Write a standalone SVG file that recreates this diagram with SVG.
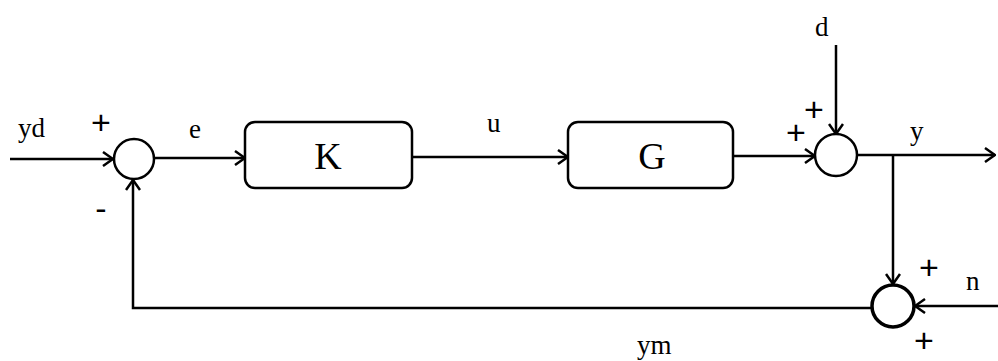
<svg xmlns="http://www.w3.org/2000/svg" width="998" height="361" viewBox="0 0 998 361">
  <style>
    .ln { fill: none; stroke: #000; stroke-width: 2.5; }
    .blk { fill: #fff; stroke: #000; stroke-width: 2.5; }
    .sum { fill: #fff; stroke: #000; stroke-width: 2.5; }
    .lbl { font-family: "Liberation Serif", "Times New Roman", serif; font-size: 27px; fill: #000; }
    .big { font-family: "Liberation Serif", "Times New Roman", serif; font-size: 38px; fill: #000; text-anchor: middle; }
    .sgn { font-family: "Liberation Sans", Arial, sans-serif; font-size: 34px; fill: #000; text-anchor: middle; }
  </style>
  <defs>
    <marker id="arr" viewBox="0 0 12 16" refX="11" refY="8" markerWidth="12" markerHeight="16" markerUnits="userSpaceOnUse" orient="auto">
      <path d="M1,1 L11,8 L1,15" fill="none" stroke="#000" stroke-width="2.5"/>
    </marker>
  </defs>

  <g id="connectors">
    <!-- reference input into first summing junction -->
    <path class="ln" d="M10,159 L113,159" marker-end="url(#arr)"/>
    <!-- error to controller -->
    <path class="ln" d="M155,158 L245,158" marker-end="url(#arr)"/>
    <!-- control signal to plant -->
    <path class="ln" d="M412,157 L568,157" marker-end="url(#arr)"/>
    <!-- plant output to disturbance junction -->
    <path class="ln" d="M733,156 L815,156" marker-end="url(#arr)"/>
    <!-- disturbance -->
    <path class="ln" d="M836,45 L836,134" marker-end="url(#arr)"/>
    <!-- output -->
    <path class="ln" d="M857,155 L995,155" marker-end="url(#arr)"/>
    <!-- measurement branch -->
    <path class="ln" d="M893,155 L893,284" marker-end="url(#arr)"/>
    <!-- noise -->
    <path class="ln" d="M998,306 L915,306" marker-end="url(#arr)"/>
    <!-- feedback ym -->
    <path class="ln" d="M871,308 L133,308 L133,180" marker-end="url(#arr)"/>
  </g>

  <g id="sum1">
    <circle class="sum" cx="134" cy="159" r="20"/>
  </g>
  <g id="K">
    <rect class="blk" x="245" y="122" width="167" height="66" rx="10"/>
    <text class="big" x="328" y="169">K</text>
  </g>
  <g id="G">
    <rect class="blk" x="568" y="122" width="165" height="66" rx="10"/>
    <text class="big" x="652" y="169">G</text>
  </g>
  <g id="sum2">
    <circle class="sum" cx="836" cy="155" r="21"/>
  </g>
  <g id="sum3">
    <circle class="sum" cx="893" cy="306" r="21" style="stroke-width:3.5"/>
  </g>

  <g id="labels">
    <text class="lbl" x="18" y="137">yd</text>
    <text class="lbl" x="189" y="138">e</text>
    <text class="lbl" x="487" y="132">u</text>
    <text class="lbl" x="815" y="36">d</text>
    <text class="lbl" x="910" y="140">y</text>
    <text class="lbl" x="966" y="290">n</text>
    <text class="lbl" x="637" y="354">ym</text>
    <text class="sgn" x="101" y="134">+</text>
    <text class="sgn" x="101" y="220">-</text>
    <text class="sgn" x="814" y="121">+</text>
    <text class="sgn" x="796" y="144">+</text>
    <text class="sgn" x="929" y="279">+</text>
    <text class="sgn" x="924" y="352">+</text>
  </g>
</svg>
